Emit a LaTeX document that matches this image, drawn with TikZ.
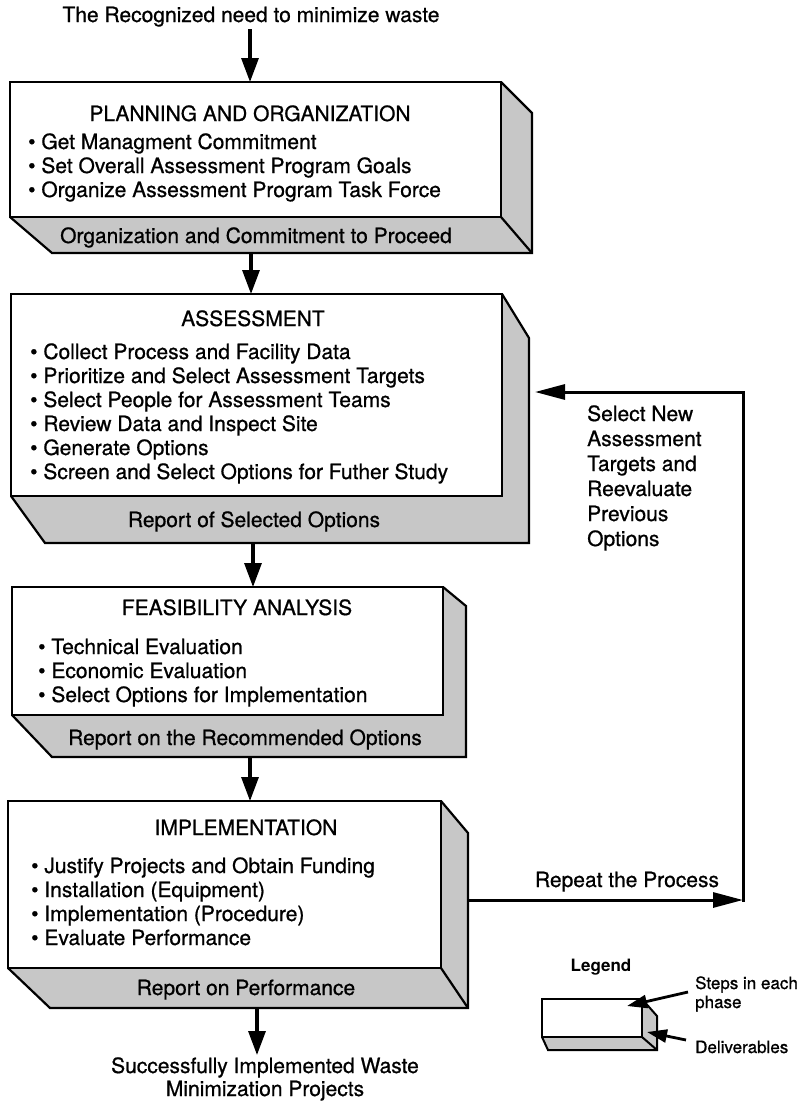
\documentclass[tikz,border=0pt]{standalone}
\usepackage{fontspec}
\setmainfont{TeX Gyre Heros}[FakeBold=0.8]
\newfontfamily\legbold{TeX Gyre Heros Bold}
\usetikzlibrary{arrows.meta}
\newcommand\phaseblock[8]{%
  \fill[face] (#1,#4) -- (#3,#4) -- (#3,#2) -- (#7,#8) -- (#7,#5) -- (#6,#5) -- cycle;
  \draw[edge] (#1,#4) -- (#6,#5) -- (#7,#5) -- (#7,#8) -- (#3,#2);
  \draw[front] (#1,#2) rectangle (#3,#4);
}
\begin{document}
\begin{tikzpicture}[x=1pt,y=-1pt,
  face/.style={fill=black!22},
  edge/.style={draw=black,line width=2.2pt,line join=miter},
  front/.style={fill=white,draw=black,line width=2.2pt},
  txt/.style={font=\fontsize{21}{24}\selectfont, inner sep=0pt},
  item/.style={txt, anchor=base west},
  ttl/.style={txt, anchor=base},
  smalltxt/.style={font=\fontsize{17}{20}\selectfont, inner sep=0pt, anchor=base west},
  varr/.style={line width=3.2pt,-{Triangle[length=24pt,width=17pt]}},
  larr/.style={line width=3pt,-{Triangle[length=30pt,width=15pt]}},
  legarr/.style={line width=2.8pt,-{Triangle[length=20pt,width=13pt]}}
]
\useasboundingbox (0,0) rectangle (802,1101);

% ---- top text
\node[ttl] (top) at (251,22) {The Recognized need to minimize waste};

% ---- box 1
\phaseblock{10}{82}{501}{217}{253}{52}{532}{113}
\draw[edge] (501,217) -- (532,253);
\node[ttl] (t1) at (250,121) {PLANNING AND ORGANIZATION};
\foreach \t [count=\i] in {Get Managment Commitment,Set Overall Assessment Program Goals,Organize Assessment Program Task Force}
  \node[item] (i1\i) at (28,{149+24*(\i-1)}) {\textbullet\ \t};
\node[ttl] (d1) at (256,243) {Organization and Commitment to Proceed};

% ---- box 2
\phaseblock{11}{294}{502}{496}{543}{45}{529}{338}
\node[ttl] (t2) at (253,326) {ASSESSMENT};
\foreach \t [count=\i] in {Collect Process and Facility Data,Prioritize and Select Assessment Targets,Select People for Assessment Teams,Review Data and Inspect Site,Generate Options,Screen and Select Options for Futher Study}
  \node[item] (i2\i) at (30,{359+24*(\i-1)}) {\textbullet\ \t};
\node[ttl] (d2) at (254,527) {Report of Selected Options};

% ---- box 3
\phaseblock{12}{587}{443}{715}{757}{52}{466}{606}
\node[ttl] (t3) at (237,615) {FEASIBILITY ANALYSIS};
\foreach \t [count=\i] in {Technical Evaluation,Economic Evaluation,Select Options for Implementation}
  \node[item] (i3\i) at (38,{654+24*(\i-1)}) {\textbullet\ \t};
\node[ttl] (d3) at (245,745) {Report on the Recommended Options};

% ---- box 4
\phaseblock{8}{801}{441}{968}{1008}{50}{468}{833}
\draw[edge] (441,968) -- (468,1008);
\node[ttl] (t4) at (246,835) {IMPLEMENTATION};
\foreach \t [count=\i] in {Justify Projects and Obtain Funding,Installation (Equipment),Implementation (Procedure),Evaluate Performance}
  \node[item] (i4\i) at (31,{873+24*(\i-1)}) {\textbullet\ \t};
\node[ttl] (d4) at (246,995) {Report on Performance};

% ---- bottom text
\node[ttl] (end1) at (265,1073) {Successfully Implemented Waste};
\node[ttl] (end2) at (265,1096) {Minimization Projects};

% ---- vertical connectors
\coordinate (s0) at (250,29);   \coordinate (e0) at (250,82);
\coordinate (s1) at (251,253);  \coordinate (e1) at (251,294);
\coordinate (s2) at (253,543);  \coordinate (e2) at (253,587);
\coordinate (s3) at (250,757);  \coordinate (e3) at (250,801);
\coordinate (s4) at (257,1008); \coordinate (e4) at (257,1055);
\draw[varr] (s0) -- (e0);
\draw[varr] (s1) -- (e1);
\draw[varr] (s2) -- (e2);
\draw[varr] (s3) -- (e3);
\draw[varr] (s4) -- (e4);

% ---- loop
\coordinate (r0) at (468,900);
\coordinate (r1) at (743,900);
\coordinate (r1b) at (743,901.5);
\coordinate (r2) at (743,392);
\coordinate (r3) at (535,392);
\draw[larr] (r0) -- (r1);
\draw[larr,line join=miter] (r1b) -- (r2) -- (r3);
\node[ttl] (rep) at (627,887) {Repeat the Process};
\foreach \t [count=\i] in {Select New,Assessment,Targets and,Reevaluate,Previous,Options}
  \node[item] (sel\i) at (587,{421+25*(\i-1)}) {\t};

% ---- legend
\node[font=\legbold\fontsize{17}{20}\selectfont, inner sep=0pt] (leg) at (601,967) {Legend};
\begin{scope}[edge/.append style={line width=2pt}, front/.append style={line width=2pt}]
\phaseblock{542}{999}{642}{1037}{1050}{548}{657}{1016}
\draw[edge] (642,1037) -- (657,1050);
\end{scope}
\node[smalltxt] (lg1) at (695,989) {Steps in each};
\node[smalltxt] (lg2) at (695,1008) {phase};
\node[smalltxt] (lg3) at (695,1053) {Deliverables};
\coordinate (l1s) at (688,992);  \coordinate (l1e) at (627,1006);
\coordinate (l2s) at (686,1040); \coordinate (l2e) at (647,1032);
\draw[legarr] (l1s) -- (l1e);
\draw[legarr] (l2s) -- (l2e);
\end{tikzpicture}
\end{document}
